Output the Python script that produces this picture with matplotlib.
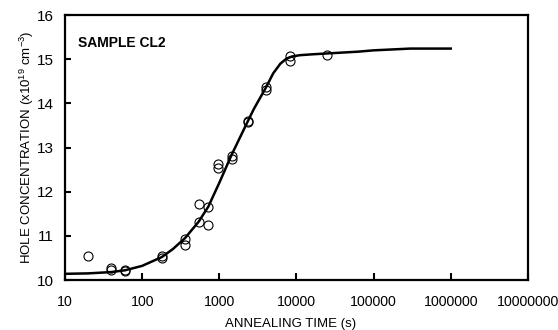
import matplotlib
matplotlib.use("Agg")
import matplotlib.pyplot as plt
from matplotlib.ticker import FixedLocator, FixedFormatter, NullLocator

plt.rcParams['font.family'] = ['Liberation Sans', 'DejaVu Sans']
plt.rcParams['mathtext.default'] = 'regular'

# measured points (annealing time in s, hole concentration in 1e19 cm^-3)
t_meas = [20, 40, 40, 60, 60, 180, 180, 360, 360, 540, 540, 720, 720,
          960, 960, 1440, 1440, 2350, 2350, 4000, 4000, 8300, 8300, 25000]
p_meas = [10.55, 10.27, 10.22, 10.22, 10.20, 10.55, 10.50, 10.93, 10.80,
          11.71, 11.32, 11.66, 11.24, 12.62, 12.53, 12.81, 12.74, 13.60,
          13.57, 14.36, 14.31, 15.07, 14.96, 15.10]

# fitted curve
t_fit = [10, 20, 40, 60, 100, 180, 250, 360, 540, 720, 1000, 1440, 2350,
         2800, 4000, 5000, 6200, 7400, 8700, 11000, 16000, 25000, 63000,
         100000, 300000, 1000000]
p_fit = [10.14, 10.15, 10.18, 10.22, 10.32, 10.52, 10.70, 10.95, 11.32,
         11.66, 12.2, 12.83, 13.6, 13.87, 14.35, 14.68, 14.9, 15.01, 15.06,
         15.09, 15.11, 15.13, 15.17, 15.2, 15.24, 15.24]

x_ticks = [10, 100, 1000, 10000, 100000, 1000000, 10000000]
x_labels = ["10", "100", "1000", "10000", "100000", "1000000", "10000000"]

fig = plt.figure(figsize=(5.58, 3.3), dpi=100)
ax = fig.add_axes([0.1165, 0.1515, 0.8295, 0.803])

ax.plot(t_fit, p_fit, color='black', lw=1.8, zorder=2)
ax.plot(t_meas, p_meas, 'o', mfc='none', mec='black', ms=6.5, mew=0.8, zorder=3)

ax.set_xscale('log')
ax.set_xlim(10, 1e7)
ax.set_ylim(10, 16)
ax.xaxis.set_major_locator(FixedLocator(x_ticks))
ax.xaxis.set_major_formatter(FixedFormatter(x_labels))
ax.xaxis.set_minor_locator(NullLocator())
ax.set_yticks([10, 11, 12, 13, 14, 15, 16])

ax.tick_params(axis='x', direction='in', length=5, width=1.5, labelsize=10.2, pad=11)
ax.tick_params(axis='y', direction='in', length=4, width=1.5, labelsize=11, pad=8)
for s in ax.spines.values():
    s.set_linewidth(1.6)

ax.set_xlabel("ANNEALING TIME (s)", fontsize=9.5)
ax.xaxis.set_label_coords(0.487, -0.145)
ax.set_ylabel("HOLE CONCENTRATION (x10$^{19}$ cm$^{-3}$)", fontsize=9.5, labelpad=1)
ax.text(0.028, 0.894, "SAMPLE CL2", transform=ax.transAxes, fontsize=10,
        fontweight='bold', va='center', ha='left')

fig.savefig("out.png", dpi=100)
